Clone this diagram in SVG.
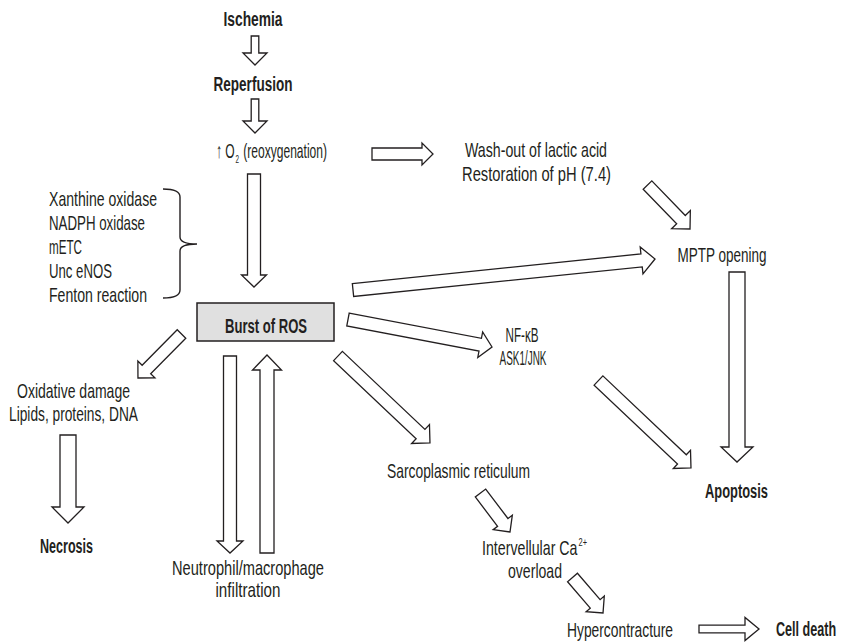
<svg xmlns="http://www.w3.org/2000/svg" width="844" height="642" viewBox="0 0 844 642">
<style>
.arr{fill:#fff;stroke:#231f20;stroke-width:1.3;stroke-linejoin:miter}
.t{font-family:"Liberation Sans",Arial,sans-serif;font-size:21px;fill:#231f20}
.m{text-anchor:middle}
.b{font-weight:bold;font-size:20px}
.s{font-size:11px}
</style>
<rect width="844" height="642" fill="#fff"/>
<g id="connectors">
<path class="arr" transform="translate(255,36) rotate(90)" d="M0,-3.8H17V-12L29,0L17,12V3.8H0Z"/>
<path class="arr" transform="translate(255,99) rotate(90)" d="M0,-3.8H22V-12L34,0L22,12V3.8H0Z"/>
<path class="arr" transform="translate(254,174) rotate(90)" d="M0,-6.5H101V-12.5L113,0L101,12.5V6.5H0Z"/>
<path class="arr" transform="translate(372,154)" d="M0,-6H50V-11L61,0L50,11V6H0Z"/>
<path class="arr" transform="translate(647.5,185) rotate(46)" d="M0,-6H48.2V-13L61.2,0L48.2,13V6H0Z"/>
<path class="arr" transform="translate(353,290) rotate(-5.86)" d="M0,-6.5H290.1V-13.5L303.6,0L290.1,13.5V6.5H0Z"/>
<path class="arr" transform="translate(348,319.5) rotate(10.8)" d="M0,-6.5H134.6V-13L146.6,0L134.6,13V6.5H0Z"/>
<path class="arr" transform="translate(338,356) rotate(43.4)" d="M0,-6.4H113.6V-13L126.6,0L113.6,13V6.4H0Z"/>
<path class="arr" transform="translate(598.5,380.5) rotate(43.4)" d="M0,-6.4H114.8V-12.5L127.3,0L114.8,12.5V6.4H0Z"/>
<path class="arr" transform="translate(737,272) rotate(90)" d="M0,-8H175V-16L190,0L175,16V8H0Z"/>
<path class="arr" transform="translate(181.5,334) rotate(134.7)" d="M0,-6H49.9V-12L61.9,0L49.9,12V6H0Z"/>
<path class="arr" transform="translate(68,435) rotate(90)" d="M0,-8H72V-16L88,0L72,16V8H0Z"/>
<path class="arr" transform="translate(230,356) rotate(90)" d="M0,-6.5H185V-13L197,0L185,13V6.5H0Z"/>
<path class="arr" transform="translate(267,553) rotate(-90)" d="M0,-7H183V-14.5L198,0L183,14.5V7H0Z"/>
<path class="arr" transform="translate(480.5,493) rotate(52.9)" d="M0,-6.5H36.9V-12L48.9,0L36.9,12V6.5H0Z"/>
<path class="arr" transform="translate(572.5,577.5) rotate(49.3)" d="M0,-6.5H34.8V-12L46.8,0L34.8,12V6.5H0Z"/>
<path class="arr" transform="translate(699,629)" d="M0,-3.8H46V-11.5L60,0L46,11.5V3.8H0Z"/>
</g>
<g id="ischemia"><text class="t b m" x="253" y="26" textLength="59" lengthAdjust="spacingAndGlyphs">Ischemia</text></g>
<g id="reperfusion"><text class="t b m" x="253" y="91" textLength="79" lengthAdjust="spacingAndGlyphs">Reperfusion</text></g>
<g id="reoxygenation">
<text class="t" x="216" y="158" textLength="111" lengthAdjust="spacingAndGlyphs">↑ O<tspan class="s" dx="1.5" dy="5">2</tspan><tspan dx="1.5" dy="-5"> (reoxygenation)</tspan></text>
</g>
<g id="washout">
<text class="t m" x="536" y="157" textLength="142" lengthAdjust="spacingAndGlyphs">Wash-out of lactic acid</text>
<text class="t m" x="536.5" y="181" textLength="149" lengthAdjust="spacingAndGlyphs">Restoration of pH (7.4)</text>
</g>
<g id="sources">
<text class="t" x="49" y="206" textLength="108" lengthAdjust="spacingAndGlyphs">Xanthine oxidase</text>
<text class="t" x="49" y="230" textLength="96" lengthAdjust="spacingAndGlyphs">NADPH oxidase</text>
<text class="t" x="49" y="254" textLength="33" lengthAdjust="spacingAndGlyphs">mETC</text>
<text class="t" x="49" y="278" textLength="63" lengthAdjust="spacingAndGlyphs">Unc eNOS</text>
<text class="t" x="49" y="302" textLength="98" lengthAdjust="spacingAndGlyphs">Fenton reaction</text>
<path d="M163,189 Q180,189 180,197 L180,237 Q180,244 197,244 Q180,244 180,251 L180,290 Q180,298 163,298" fill="none" stroke="#231f20" stroke-width="1.4"/>
</g>
<g id="burst">
<rect x="197" y="303" width="137" height="38" fill="#e0e0e0" stroke="#231f20" stroke-width="1.5"/>
<text class="t b m" x="266" y="333" textLength="82" lengthAdjust="spacingAndGlyphs">Burst of ROS</text>
</g>
<g id="mptp"><text class="t m" x="722" y="262" textLength="89" lengthAdjust="spacingAndGlyphs">MPTP opening</text></g>
<g id="nfkb">
<text class="t m" x="522" y="342" textLength="33" lengthAdjust="spacingAndGlyphs">NF-κB</text>
<text class="t m" x="523" y="365" textLength="47" lengthAdjust="spacingAndGlyphs">ASK1/JNK</text>
</g>
<g id="oxidative">
<text class="t m" x="73.5" y="398" textLength="113" lengthAdjust="spacingAndGlyphs">Oxidative damage</text>
<text class="t m" x="73.5" y="421" textLength="129" lengthAdjust="spacingAndGlyphs">Lipids, proteins, DNA</text>
</g>
<g id="necrosis"><text class="t b m" x="66.5" y="553" textLength="53" lengthAdjust="spacingAndGlyphs">Necrosis</text></g>
<g id="neutrophil">
<text class="t m" x="248" y="575" textLength="152" lengthAdjust="spacingAndGlyphs">Neutrophil/macrophage</text>
<text class="t m" x="248" y="597" textLength="65" lengthAdjust="spacingAndGlyphs">infiltration</text>
</g>
<g id="sarcoplasmic"><text class="t m" x="458.5" y="478" textLength="143" lengthAdjust="spacingAndGlyphs">Sarcoplasmic reticulum</text></g>
<g id="apoptosis"><text class="t b m" x="736.5" y="498" textLength="63" lengthAdjust="spacingAndGlyphs">Apoptosis</text></g>
<g id="calcium">
<text class="t" x="482" y="555" textLength="105" lengthAdjust="spacingAndGlyphs">Intervellular Ca<tspan class="s" dx="1.5" dy="-9">2+</tspan></text>
<text class="t m" x="535" y="578" textLength="54" lengthAdjust="spacingAndGlyphs">overload</text>
</g>
<g id="hypercontracture"><text class="t m" x="620" y="637" textLength="106" lengthAdjust="spacingAndGlyphs">Hypercontracture</text></g>
<g id="celldeath"><text class="t b" transform="translate(776,636) scale(0.63,1)" x="0" y="0">Cell death</text></g>
</svg>
